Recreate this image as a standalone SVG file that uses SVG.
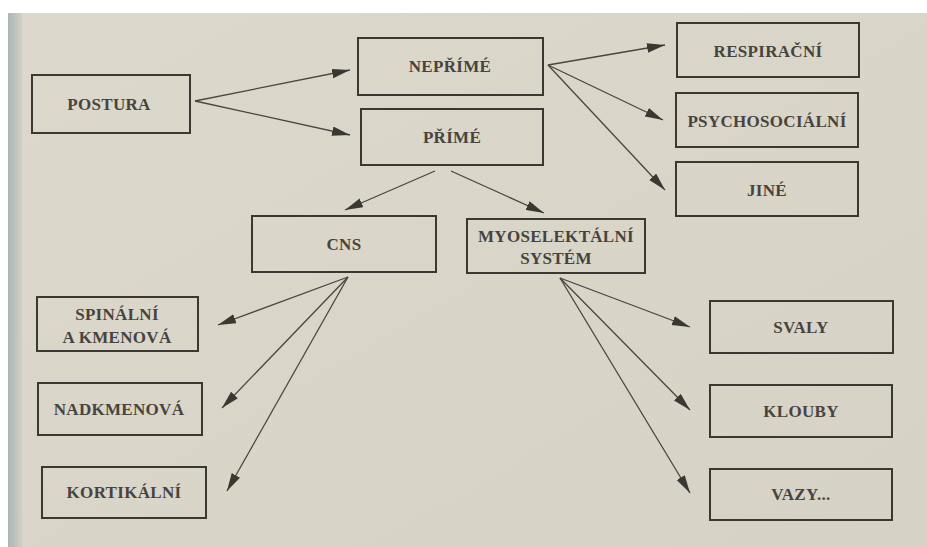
<svg xmlns="http://www.w3.org/2000/svg" width="927" height="547" viewBox="0 0 927 547">
<defs>
<style>
.box{fill:none;stroke:#3b3733;stroke-width:2}
.t{font-family:"Liberation Serif","Times New Roman",serif;font-weight:bold;font-size:17px;letter-spacing:0.3px;fill:#47433e;text-anchor:middle}
.c{stroke:#4a4541;stroke-width:1.3;fill:none;marker-end:url(#ah)}
</style>
<marker id="ah" markerUnits="userSpaceOnUse" markerWidth="20" markerHeight="10" refX="18" refY="4.75" orient="auto">
<path d="M0,0 L18,4.75 L0,9.5 z" fill="#3b3733"/>
</marker>
<linearGradient id="pg" x1="0" y1="0" x2="1" y2="1">
<stop offset="0" stop-color="#dcd8cb"/>
<stop offset="1" stop-color="#d6d2c5"/>
</linearGradient>
<linearGradient id="edge" x1="0" y1="0" x2="1" y2="0">
<stop offset="0" stop-color="#a9b6b4"/>
<stop offset="1" stop-color="#d2d0c4"/>
</linearGradient>
</defs>
<rect width="927" height="547" fill="#ffffff"/>
<rect x="8" y="13" width="919" height="534" fill="url(#pg)"/>
<rect x="8" y="13" width="14" height="534" fill="url(#edge)"/>

<g id="connectors">
<line class="c" x1="195" y1="101" x2="350" y2="70"/>
<line class="c" x1="195" y1="101" x2="350" y2="135"/>
<line class="c" x1="548" y1="65" x2="665" y2="45"/>
<line class="c" x1="548" y1="65" x2="663" y2="120"/>
<line class="c" x1="548" y1="65" x2="665" y2="190"/>
<line class="c" x1="435" y1="171" x2="345" y2="210"/>
<line class="c" x1="451" y1="171" x2="544" y2="213"/>
<line class="c" x1="348" y1="277" x2="218" y2="325"/>
<line class="c" x1="348" y1="277" x2="222" y2="408"/>
<line class="c" x1="348" y1="277" x2="227" y2="491"/>
<line class="c" x1="560" y1="278" x2="690" y2="327"/>
<line class="c" x1="560" y1="278" x2="690" y2="410"/>
<line class="c" x1="560" y1="278" x2="690" y2="493"/>
</g>

<g id="postura"><rect class="box" x="32" y="75" width="158" height="58"/><text class="t" x="109" y="110">POSTURA</text></g>
<g id="neprime"><rect class="box" x="358" y="38" width="185" height="57"/><text class="t" x="450" y="72">NEPŘÍMÉ</text></g>
<g id="prime"><rect class="box" x="361" y="109" width="182" height="56"/><text class="t" x="452" y="143">PŘÍMÉ</text></g>
<g id="respiracni"><rect class="box" x="677" y="23" width="182" height="54"/><text class="t" x="768" y="57">RESPIRAČNÍ</text></g>
<g id="psychosocialni"><rect class="box" x="676" y="93" width="182" height="54"/><text class="t" x="767" y="127">PSYCHOSOCIÁLNÍ</text></g>
<g id="jine"><rect class="box" x="676" y="162" width="182" height="54"/><text class="t" x="767" y="196">JINÉ</text></g>
<g id="cns"><rect class="box" x="252" y="216" width="184" height="56"/><text class="t" x="344" y="250">CNS</text></g>
<g id="myoselektalni"><rect class="box" x="467" y="219" width="178" height="54"/><text class="t" x="556" y="242">MYOSELEKTÁLNÍ</text><text class="t" x="556" y="264">SYSTÉM</text></g>
<g id="spinalni"><rect class="box" x="37" y="297" width="161" height="54"/><text class="t" x="117" y="320">SPINÁLNÍ</text><text class="t" x="117" y="343">A KMENOVÁ</text></g>
<g id="nadkmenova"><rect class="box" x="38" y="383" width="164" height="52"/><text class="t" x="119" y="415">NADKMENOVÁ</text></g>
<g id="kortikalni"><rect class="box" x="42" y="467" width="164" height="51"/><text class="t" x="124" y="498">KORTIKÁLNÍ</text></g>
<g id="svaly"><rect class="box" x="710" y="301" width="183" height="52"/><text class="t" x="801" y="333">SVALY</text></g>
<g id="klouby"><rect class="box" x="710" y="385" width="182" height="52"/><text class="t" x="801" y="417">KLOUBY</text></g>
<g id="vazy"><rect class="box" x="710" y="469" width="182" height="51"/><text class="t" x="801" y="500">VAZY...</text></g>
</svg>
